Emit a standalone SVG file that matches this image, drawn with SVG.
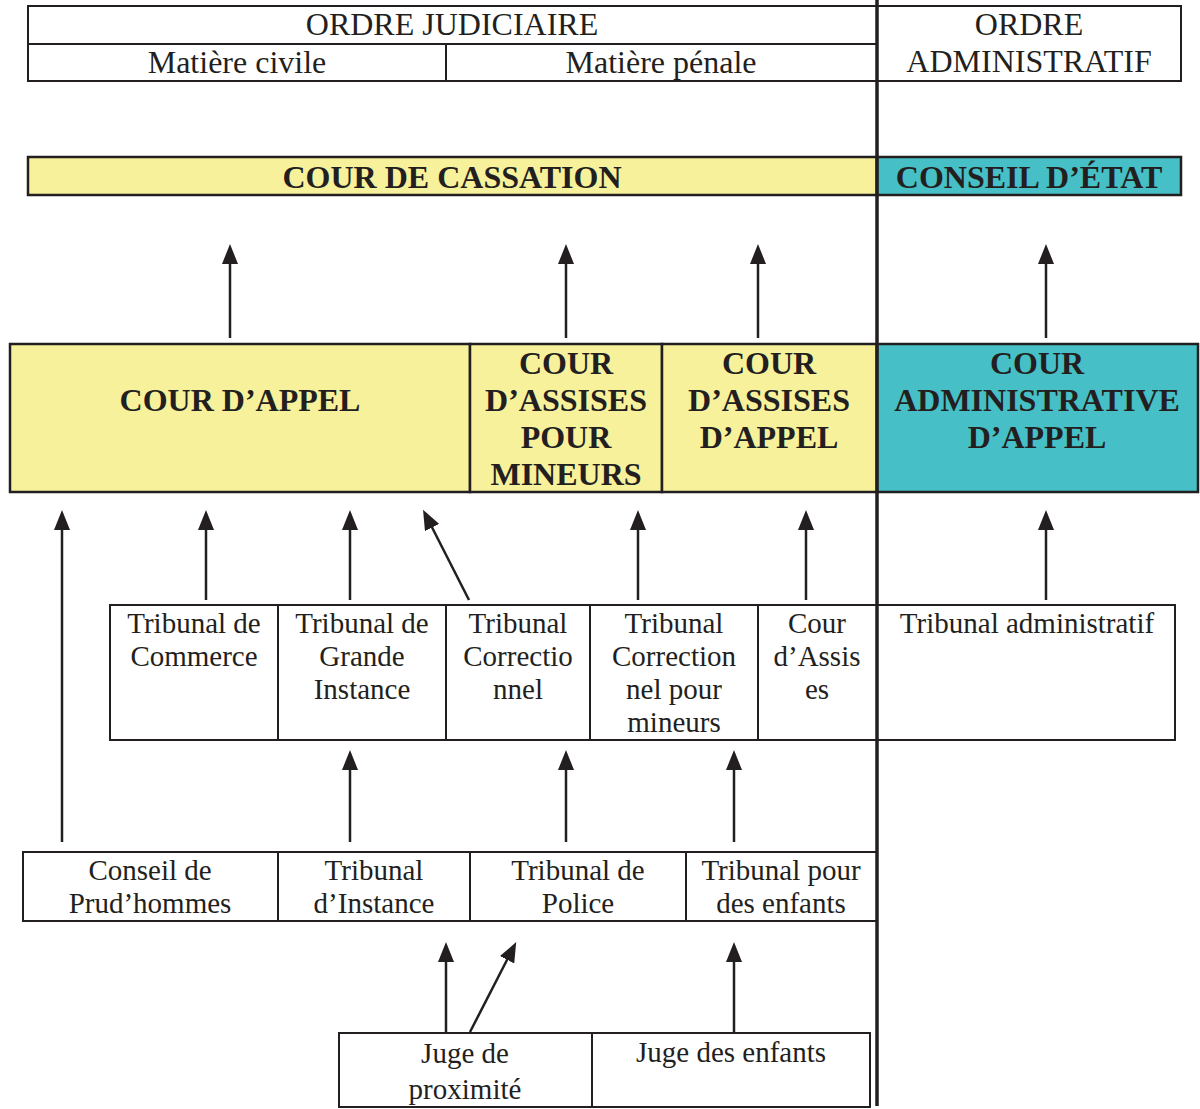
<svg xmlns="http://www.w3.org/2000/svg" width="1200" height="1109" viewBox="0 0 1200 1109">
  <style>
    .box { fill: #ffffff; stroke: #231F20; stroke-width: 2; }
    .yel { fill: #F7F19B; stroke: #231F20; stroke-width: 2.5; }
    .teal { fill: #46BFC6; stroke: #231F20; stroke-width: 2.5; }
    .div { stroke: #231F20; stroke-width: 2; }
    .t { font-family: "Liberation Serif", "Times New Roman", serif; font-size: 29px; fill: #231F20; text-anchor: middle; }
    .h { font-family: "Liberation Serif", "Times New Roman", serif; font-size: 32px; fill: #231F20; text-anchor: middle; }
    .b { font-family: "Liberation Serif", "Times New Roman", serif; font-size: 32px; font-weight: bold; fill: #231F20; text-anchor: middle; }
    .arrow { stroke: #231F20; stroke-width: 2.5; fill: none; marker-end: url(#head); }
  </style>
  <defs>
    <marker id="head" markerUnits="userSpaceOnUse" markerWidth="20" markerHeight="16" viewBox="0 0 20 16" refX="2" refY="8" orient="auto">
      <path d="M0,0 L20,8 L0,16 z" fill="#231F20"/>
    </marker>
  </defs>

  <rect width="1200" height="1109" fill="#ffffff"/>

  <!-- header -->
  <g id="ordre-judiciaire">
    <rect class="box" x="28" y="6" width="849" height="75"/>
    <line class="div" x1="28" y1="44" x2="877" y2="44"/>
    <line class="div" x1="446" y1="44" x2="446" y2="81"/>
    <text class="h" x="452" y="35">ORDRE JUDICIAIRE</text>
    <text class="h" x="237" y="73">Matière civile</text>
    <text class="h" x="661" y="73">Matière pénale</text>
  </g>
  <g id="ordre-administratif">
    <rect class="box" x="877" y="6" width="304" height="75"/>
    <text class="h" x="1029" y="35">ORDRE</text>
    <text class="h" x="1029" y="72">ADMINISTRATIF</text>
  </g>

  <!-- supreme courts -->
  <g id="cour-de-cassation">
    <rect class="yel" x="28" y="157" width="849" height="38"/>
    <text class="b" x="452" y="188">COUR DE CASSATION</text>
  </g>
  <g id="conseil-etat">
    <rect class="teal" x="877" y="157" width="304" height="38"/>
    <text class="b" x="1029" y="188">CONSEIL D’ÉTAT</text>
  </g>

  <!-- appeal courts -->
  <g id="cour-appel">
    <rect class="yel" x="10" y="344" width="460" height="148"/>
    <text class="b" x="240" y="411">COUR D’APPEL</text>
  </g>
  <g id="cour-assises-mineurs">
    <rect class="yel" x="470" y="344" width="192" height="148"/>
    <text class="b" x="566" y="374">COUR</text>
    <text class="b" x="566" y="411">D’ASSISES</text>
    <text class="b" x="566" y="448">POUR</text>
    <text class="b" x="566" y="485">MINEURS</text>
  </g>
  <g id="cour-assises-appel">
    <rect class="yel" x="662" y="344" width="215" height="148"/>
    <text class="b" x="769" y="374">COUR</text>
    <text class="b" x="769" y="411">D’ASSISES</text>
    <text class="b" x="769" y="448">D’APPEL</text>
  </g>
  <g id="cour-administrative-appel">
    <rect class="teal" x="877" y="344" width="321" height="148"/>
    <text class="b" x="1037" y="374">COUR</text>
    <text class="b" x="1037" y="411">ADMINISTRATIVE</text>
    <text class="b" x="1037" y="448">D’APPEL</text>
  </g>

  <!-- first-instance tribunals -->
  <g id="tribunal-commerce">
    <rect class="box" x="110" y="605" width="168" height="135"/>
    <text class="t" x="194" y="633">Tribunal de</text>
    <text class="t" x="194" y="666">Commerce</text>
  </g>
  <g id="tribunal-grande-instance">
    <rect class="box" x="278" y="605" width="168" height="135"/>
    <text class="t" x="362" y="633">Tribunal de</text>
    <text class="t" x="362" y="666">Grande</text>
    <text class="t" x="362" y="699">Instance</text>
  </g>
  <g id="tribunal-correctionnel">
    <rect class="box" x="446" y="605" width="144" height="135"/>
    <text class="t" x="518" y="633">Tribunal</text>
    <text class="t" x="518" y="666">Correctio</text>
    <text class="t" x="518" y="699">nnel</text>
  </g>
  <g id="tribunal-correctionnel-mineurs">
    <rect class="box" x="590" y="605" width="168" height="135"/>
    <text class="t" x="674" y="633">Tribunal</text>
    <text class="t" x="674" y="666">Correction</text>
    <text class="t" x="674" y="699">nel pour</text>
    <text class="t" x="674" y="732">mineurs</text>
  </g>
  <g id="cour-assises">
    <rect class="box" x="758" y="605" width="119" height="135"/>
    <text class="t" x="817" y="633">Cour</text>
    <text class="t" x="817" y="666">d’Assis</text>
    <text class="t" x="817" y="699">es</text>
  </g>
  <g id="tribunal-administratif">
    <rect class="box" x="877" y="605" width="298" height="135"/>
    <text class="t" x="1027" y="633">Tribunal administratif</text>
  </g>

  <!-- lower tribunals -->
  <g id="conseil-prudhommes">
    <rect class="box" x="23" y="852" width="255" height="69"/>
    <text class="t" x="150" y="880">Conseil de</text>
    <text class="t" x="150" y="913">Prud’hommes</text>
  </g>
  <g id="tribunal-instance">
    <rect class="box" x="278" y="852" width="192" height="69"/>
    <text class="t" x="374" y="880">Tribunal</text>
    <text class="t" x="374" y="913">d’Instance</text>
  </g>
  <g id="tribunal-police">
    <rect class="box" x="470" y="852" width="216" height="69"/>
    <text class="t" x="578" y="880">Tribunal de</text>
    <text class="t" x="578" y="913">Police</text>
  </g>
  <g id="tribunal-enfants">
    <rect class="box" x="686" y="852" width="191" height="69"/>
    <text class="t" x="781" y="880">Tribunal pour</text>
    <text class="t" x="781" y="913">des enfants</text>
  </g>

  <!-- judges -->
  <g id="juge-proximite">
    <rect class="box" x="339" y="1033" width="253" height="74"/>
    <text class="t" x="465" y="1063">Juge de</text>
    <text class="t" x="465" y="1099">proximité</text>
  </g>
  <g id="juge-enfants">
    <rect class="box" x="592" y="1033" width="278" height="74"/>
    <text class="t" x="731" y="1062">Juge des enfants</text>
  </g>

  <!-- separator between the two orders -->
  <line x1="877" y1="0" x2="877" y2="1106" stroke="#231F20" stroke-width="3.5"/>

  <!-- appeal connectors -->
  <g id="connectors">
    <line class="arrow" x1="230" y1="338" x2="230" y2="262"/>
    <line class="arrow" x1="566" y1="338" x2="566" y2="262"/>
    <line class="arrow" x1="758" y1="338" x2="758" y2="262"/>
    <line class="arrow" x1="1046" y1="338" x2="1046" y2="262"/>

    <line class="arrow" x1="62" y1="842" x2="62" y2="528"/>
    <line class="arrow" x1="206" y1="600" x2="206" y2="528"/>
    <line class="arrow" x1="350" y1="600" x2="350" y2="528"/>
    <line class="arrow" x1="469" y1="600" x2="431.2" y2="525.8"/>
    <line class="arrow" x1="638" y1="600" x2="638" y2="528"/>
    <line class="arrow" x1="806" y1="600" x2="806" y2="528"/>
    <line class="arrow" x1="1046" y1="600" x2="1046" y2="528"/>

    <line class="arrow" x1="350" y1="842" x2="350" y2="768"/>
    <line class="arrow" x1="566" y1="842" x2="566" y2="768"/>
    <line class="arrow" x1="734" y1="842" x2="734" y2="768"/>

    <line class="arrow" x1="446" y1="1032" x2="446" y2="960"/>
    <line class="arrow" x1="470" y1="1032" x2="508" y2="958"/>
    <line class="arrow" x1="734" y1="1032" x2="734" y2="960"/>
  </g>
</svg>
